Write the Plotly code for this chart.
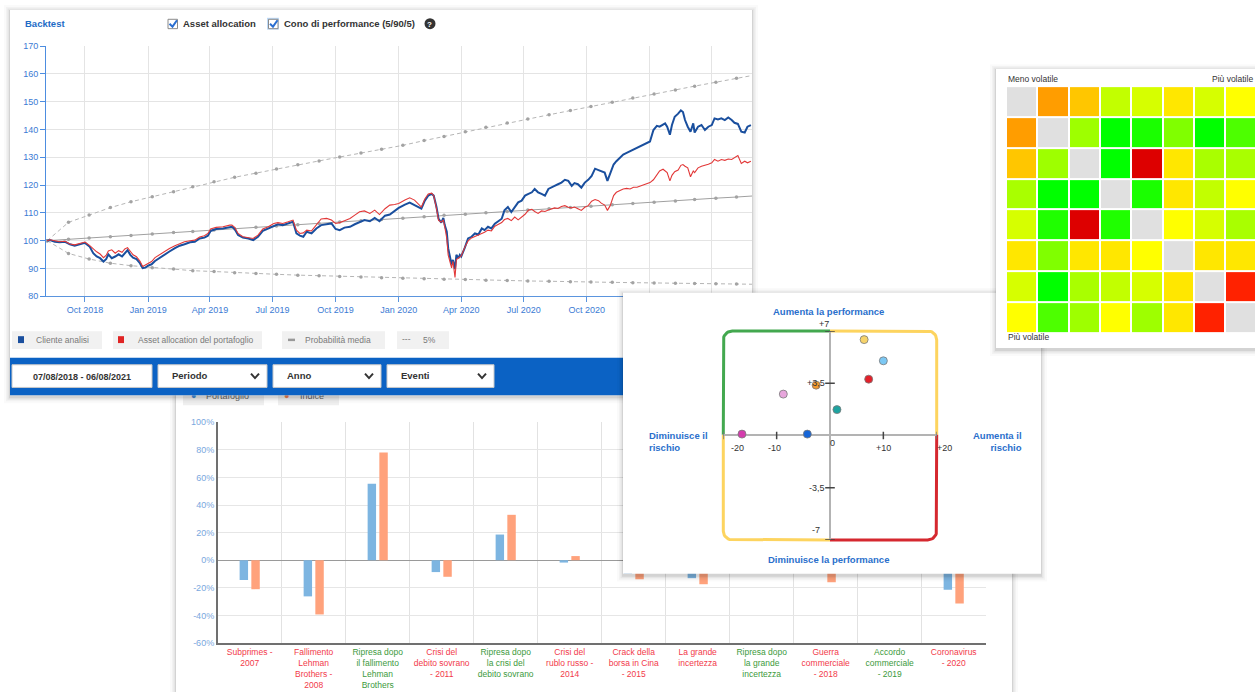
import math
import plotly.graph_objects as go

W, H = 1255, 697

# ---------------- Backtest (line chart) data ----------------
dates = [
    '2018-08-07', '2018-08-11', '2018-08-18', '2018-08-25', '2018-09-02', '2018-09-09', '2018-09-16', '2018-09-24', '2018-10-01', '2018-10-08',
    '2018-10-13', '2018-10-18', '2018-10-23', '2018-10-28', '2018-11-01', '2018-11-04', '2018-11-09', '2018-11-14', '2018-11-19', '2018-11-24',
    '2018-11-28', '2018-12-02', '2018-12-06', '2018-12-10', '2018-12-15', '2018-12-20', '2018-12-24', '2018-12-28', '2019-01-01', '2019-01-06',
    '2019-01-11', '2019-01-18', '2019-01-25', '2019-02-01', '2019-02-09', '2019-02-16', '2019-02-23', '2019-03-03', '2019-03-10', '2019-03-17',
    '2019-03-24', '2019-03-29', '2019-04-02', '2019-04-10', '2019-04-20', '2019-04-30',
    '2019-05-03', '2019-05-07', '2019-05-12', '2019-05-19', '2019-05-27', '2019-06-03', '2019-06-10', '2019-06-17', '2019-06-25', '2019-07-03',
    '2019-07-09', '2019-07-16', '2019-07-24', '2019-07-31', '2019-08-05', '2019-08-10', '2019-08-15', '2019-08-20', '2019-08-27', '2019-09-03',
    '2019-09-10', '2019-09-18', '2019-09-25', '2019-10-01', '2019-10-07', '2019-10-14', '2019-10-22', '2019-10-29', '2019-11-05', '2019-11-12',
    '2019-11-20', '2019-11-27', '2019-12-04', '2019-12-12', '2019-12-19', '2019-12-26', '2020-01-01', '2020-01-10', '2020-01-17', '2020-01-24',
    '2020-02-03', '2020-02-08', '2020-02-13', '2020-02-18', '2020-02-21', '2020-02-25', '2020-02-28', '2020-03-03', '2020-03-06', '2020-03-08',
    '2020-03-11', '2020-03-13', '2020-03-16', '2020-03-18', '2020-03-20', '2020-03-23', '2020-03-25', '2020-03-28', '2020-03-30', '2020-04-01',
    '2020-04-06', '2020-04-11', '2020-04-16', '2020-04-21', '2020-04-26', '2020-05-01', '2020-05-05', '2020-05-10', '2020-05-15', '2020-05-20',
    '2020-05-25', '2020-05-30', '2020-06-03', '2020-06-08', '2020-06-13', '2020-06-18', '2020-06-23', '2020-06-28', '2020-07-03', '2020-07-08',
    '2020-07-13', '2020-07-17', '2020-07-22', '2020-07-27', '2020-08-01', '2020-08-06', '2020-08-11', '2020-08-15', '2020-08-20', '2020-08-25',
    '2020-08-30', '2020-09-04', '2020-09-09', '2020-09-13', '2020-09-18', '2020-09-23', '2020-09-28', '2020-10-03', '2020-10-08', '2020-10-13',
    '2020-10-18', '2020-10-22', '2020-10-27',
    '2020-10-31', '2020-11-04', '2020-11-09', '2020-11-13', '2020-11-18', '2020-11-23', '2020-11-28', '2020-12-03', '2020-12-08', '2020-12-13',
    '2020-12-18', '2020-12-22', '2020-12-27', '2021-01-01', '2021-01-06', '2021-01-11', '2021-01-15', '2021-01-20', '2021-01-23', '2021-01-26',
    '2021-01-30', '2021-02-02', '2021-02-06', '2021-02-11', '2021-02-15', '2021-02-18', '2021-02-21', '2021-02-25', '2021-03-01', '2021-03-05',
    '2021-03-07', '2021-03-12', '2021-03-17', '2021-03-22', '2021-03-27', '2021-04-01', '2021-04-05', '2021-04-10', '2021-04-15', '2021-04-20',
    '2021-04-25', '2021-04-30', '2021-05-04', '2021-05-09', '2021-05-14', '2021-05-19', '2021-05-23', '2021-05-28',
]
cliente_analisi = [
    100, 100.2, 99.6, 99.4, 99.6, 98.7, 98.2, 98.7, 99.2, 97.8,
    95.5, 94.3, 93.7, 92.5, 93.4, 95.1, 93.7, 94.3, 95.1, 94.3,
    95.5, 96.6, 94.9, 93.9, 93.4, 91.9, 90.1, 90.3, 91.0, 91.5,
    92.7, 93.9, 95.1, 96.1, 97.3, 98.2, 98.7, 99.4, 99.6, 100.8,
    101.1, 101.8, 103.5, 104.2, 104.4, 105.0,
    105, 104.2, 102, 101.1, 100.8, 100.2, 101.4, 103.5, 104.4, 105.4,
    105.9, 105.6, 106.2, 106.8, 102.6, 101.8, 101.4, 103.2, 102.6, 104.4,
    105.6, 105.9, 106.2, 104.2, 103.8, 104.7, 105, 105.9, 106.8, 107.4,
    107, 108.2, 107, 109, 109.4, 110.7, 111.8, 113, 113.7, 112.8,
    111.5, 114.4, 116.2, 116.8, 116.2, 112.1, 107.9, 106.5, 108.2, 105.6,
    103.2, 97.3, 93.7, 91.4, 93.1, 89.8, 94.9, 93.7, 94.9, 94.3,
    97.3, 100.8, 101.4, 102.6, 102.2, 104.4, 103.8, 105, 104.4, 106.1,
    107, 107.9, 110.9, 112.1, 110.3, 112.1, 113.8, 114.4, 116.2, 116.8,
    117.4, 118.6, 117.4, 116.8, 116.2, 118.6, 119.1, 119.7, 120.3, 120.9,
    121.9, 121.5, 119.7, 120.7, 120.3, 119.1, 120.9, 121.9, 123.3, 125.9,
    125.4, 125.1, 124.5,
    121.5, 124.5, 127.4, 128.6, 129.8, 131, 131.6, 132.2, 132.7, 133.3,
    133.9, 134.5, 135.1, 135.7, 139.8, 141.3, 141, 141.6, 142.2, 141,
    138.1, 141.6, 144.6, 145.7, 146.9, 146.3, 143.4, 141, 139.2, 142.2,
    138.9, 141, 141.6, 139.8, 141, 141.6, 144, 143.6, 144, 143.4,
    144.3, 143.4, 142.4, 142, 139.2, 138.9, 141, 141.6,
]
asset_allocation = [
    100, 100.3, 100, 99.6, 99.8, 98.8, 98.5, 99, 99.5, 98.2,
    97, 96, 95.2, 93.9, 94.8, 96.3, 96.7, 95.5, 96.4, 95.8,
    97, 97.5, 96.2, 94.9, 94.2, 92.7, 90.7, 91.2, 91.9, 92.5,
    93.9, 95, 96.3, 97.2, 98.2, 98.9, 99.6, 100, 100.2, 101.3,
    101.8, 102.6, 104.2, 104.8, 105, 105.6,
    105.6, 104.8, 102.6, 101.4, 101.1, 100.8, 102, 104.2, 105, 106.2,
    106.5, 106.2, 106.8, 107.4, 103.8, 102.6, 102.8, 103.8, 103.5, 105.6,
    107.8, 108, 107.4, 106.2, 106.5, 107.2, 108, 109.2, 110.4, 110.7,
    109.8, 111, 109.4, 111.5, 112.8, 113, 113.4, 114.6, 115.4, 114.6,
    112.1, 115, 116.8, 117.1, 116.2, 111.5, 107.3, 106.7, 107.5, 105,
    100.8, 94.9, 92, 90.2, 92.6, 86.8, 93.2, 93.7, 94.2, 94.5,
    97.5, 99.9, 101, 101.5, 102, 102.5, 103, 103.8, 103.5, 105.2,
    105.8, 106.5, 107.6, 108, 107.2, 108.5, 107.5, 108.5, 109.5, 111,
    111.3, 110.5, 109.8, 110.7, 110.5, 111, 111.4, 111.8, 111.6, 112.3,
    112.6, 112, 111.8, 112.1, 111.5, 110.9, 112, 112.6, 114.2, 114.8,
    114.4, 113.5, 112.8,
    110.9, 112.6, 116.2, 117.4, 118, 118.6, 118.8, 118.6, 119.2, 119.2,
    119.7, 120, 120.3, 120.9, 121.9, 123.9, 125.1, 125.7, 125, 124.5,
    121.5, 123.5, 124.8, 125.4, 127.1, 127.4, 126.8, 126.2, 123, 125.1,
    124.5, 126.2, 126.8, 127.1, 127.5, 128, 129.2, 128.6, 129.2, 128.9,
    129.4, 129.2, 129.8, 130.6, 127.8, 128.6, 128, 128.6,
]
cone_dates = [
    '2018-08-07', '2018-09-07', '2018-10-07', '2018-11-07', '2018-12-07', '2019-01-07', '2019-02-07', '2019-03-07', '2019-04-07',
    '2019-05-07', '2019-06-07', '2019-07-07', '2019-08-07', '2019-09-07', '2019-10-07', '2019-11-07', '2019-12-07', '2020-01-07',
    '2020-02-07', '2020-03-07', '2020-04-07', '2020-05-07', '2020-06-07', '2020-07-07', '2020-08-07', '2020-09-07', '2020-10-07',
    '2020-11-07', '2020-12-07', '2021-01-07', '2021-02-07', '2021-03-07', '2021-04-07', '2021-05-07', '2021-06-07',
]
cone_upper = [100, 106.6, 109.2, 111.9, 114.0, 115.8, 117.6, 119.4, 121.2, 122.8, 124.3, 125.8, 127.3, 128.7, 130.1, 131.5, 132.9,
              134.3, 136.0, 137.5, 139.2, 140.8, 142.3, 143.8, 145.3, 146.8, 148.3, 149.8, 151.3, 152.8, 154.2, 155.6, 157.0, 158.4, 159.8]
cone_median = [100, 100.5, 101.0, 101.4, 101.9, 102.4, 102.9, 103.3, 103.8, 104.3, 104.8, 105.3, 105.7, 106.2, 106.7, 107.2, 107.6,
               108.1, 108.6, 109.1, 109.5, 110.0, 110.5, 111.0, 111.5, 111.9, 112.4, 112.9, 113.4, 113.8, 114.3, 114.8, 115.3, 115.7, 116.2]
cone_lower = [100, 95.4, 93.4, 91.9, 91.0, 90.3, 89.8, 89.2, 88.9, 88.5, 88.2, 87.9, 87.6, 87.4, 87.1, 86.9, 86.7,
              86.5, 86.3, 86.1, 86.0, 85.8, 85.7, 85.5, 85.4, 85.2, 85.1, 85.0, 84.9, 84.8, 84.7, 84.6, 84.5, 84.4, 84.3]

# ---------------- Events bar chart data ----------------
event_lines = [
    ['Subprimes -', '2007'],
    ['Fallimento', 'Lehman', 'Brothers -', '2008'],
    ['Ripresa dopo', 'il fallimento', 'Lehman', 'Brothers'],
    ['Crisi del', 'debito sovrano', '- 2011'],
    ['Ripresa dopo', 'la crisi del', 'debito sovrano'],
    ['Crisi del', 'rublo russo -', '2014'],
    ['Crack della', 'borsa in Cina', '- 2015'],
    ['La grande', 'incertezza'],
    ['Ripresa dopo', 'la grande', 'incertezza'],
    ['Guerra', 'commerciale', '- 2018'],
    ['Accordo', 'commerciale', '- 2019'],
    ['Coronavirus', '- 2020'],
]
event_is_crisis = [True, True, False, True, False, True, True, True, False, True, False, True]
portafoglio = [-14.3, -26.2, 55.4, -8.6, 18.6, -1.7, -10.0, -13.0, 12.0, -7.0, 15.0, -21.4]
indice = [-21.0, -39.3, 78.0, -12.0, 32.9, 3.0, -13.8, -17.4, 18.0, -16.0, 22.0, -31.4]
bar_pct_ticks = [-60, -40, -20, 0, 20, 40, 60, 80, 100]

# ---------------- Risk / performance scatter ----------------
rischio = [6.4, 10.0, 7.25, -2.6, -8.75, 1.3, -4.25, -16.5]
performance = [6.42, 5.0, 3.77, 3.37, 2.77, 1.73, 0.09, 0.09]
point_colors = ['#f6d36b', '#7cc8f4', '#e3202a', '#f29a2e', '#e7a6dc', '#1ea3a0', '#1565d8', '#d43cad']

# ---------------- Correlation heatmap ----------------
heat_scores = [
    [None, 26, 36, 62, 58, 44, 58, 50],
    [26, None, 69, 100, 95, 75, 100, 85],
    [36, 69, None, 100, 0, 44, 67, 67],
    [67, 100, 100, None, 95, 44, 62, 50],
    [58, 94, 0, 94, None, 50, 58, 67],
    [44, 75, 44, 44, 50, None, 44, 44],
    [58, 100, 67, 62, 58, 44, None, 5],
    [50, 85, 69, 50, 69, 44, 5, None],
]


def X(px):
    return px / W


def Y(py):
    return 1 - py / H


BG1, BG3, BG5, BG7 = ('x', 'y'), ('x3', 'y3'), ('x5', 'y5'), ('x7', 'y7')


def rect(x0, y0, x1, y1, fill, ax, line_color=None, lw=0):
    return go.Scatter(x=[x0, x1, x1, x0, x0], y=[y0, y0, y1, y1, y0], mode='lines', fill='toself',
                      fillcolor=fill, line=dict(width=lw, color=line_color or fill),
                      hoverinfo='skip', showlegend=False, xaxis=ax[0], yaxis=ax[1])


def polyline(xs, ys, color, width, ax, dash=None):
    return go.Scatter(x=xs, y=ys, mode='lines', line=dict(color=color, width=width, dash=dash),
                      hoverinfo='skip', showlegend=False, xaxis=ax[0], yaxis=ax[1])


def panel(x0, y0, x1, y1, ax):
    out = []
    for d, a in [(6, 0.02), (4, 0.03), (2.5, 0.05), (1, 0.08)]:
        out.append(rect(x0 - d, y0 - d + 1, x1 + d, y1 + d + 2, f'rgba(0,0,0,{a})', ax))
    out.append(rect(x0, y0, x1, y1, '#ffffff', ax))
    return out


def text_trace(x, y, txt, color, size, ax, pos='middle right'):
    return go.Scatter(x=[x], y=[y], mode='text', text=[txt], textposition=pos,
                      textfont=dict(color=color, size=size, family='Arial'),
                      hoverinfo='skip', showlegend=False, xaxis=ax[0], yaxis=ax[1])


traces = []
annotations = []


def ann(text, x, y, size=9, color='#333333', bold=False, xanchor='center', align='center'):
    annotations.append(dict(text=f'<b>{text}</b>' if bold else text, x=X(x), y=Y(y), xref='paper', yref='paper',
                            showarrow=False, font=dict(size=size, color=color, family='Arial'),
                            xanchor=xanchor, yanchor='middle', align=align))


# ===== 1) bar chart panel background (bottom-most) =====
traces += panel(176, 386, 1012, 720, BG1)
traces.append(rect(183, 389, 264, 406, '#efefef', BG1))
traces.append(rect(278, 389, 339, 406, '#efefef', BG1))
traces.append(text_trace(191, 397, '●', '#4a90d9', 9, BG1))
traces.append(text_trace(206, 397, 'Portafoglio', '#666666', 9, BG1))
traces.append(text_trace(284, 397, '●', '#f08050', 9, BG1))
traces.append(text_trace(300, 397, 'Indice', '#666666', 9, BG1))

# ===== 2) bar chart =====
event_keys = ['<br>'.join(l) for l in event_lines]
event_text = ['<br>'.join(f"<span style='color:{'#f23a4a' if c else '#3c9a3c'}'>{s}</span>" for s in l)
              for l, c in zip(event_lines, event_is_crisis)]
traces.append(go.Bar(x=event_keys, y=portafoglio, marker=dict(color='#7db5e1', line=dict(width=0)),
                     name='Portafoglio', xaxis='x2', yaxis='y2', hoverinfo='skip'))
traces.append(go.Bar(x=event_keys, y=indice, marker=dict(color='#ffa27c', line=dict(width=0)),
                     name='Indice', xaxis='x2', yaxis='y2', hoverinfo='skip'))

# ===== 3) backtest panel background & chrome =====
traces += panel(10, 5, 752, 396, BG3)
traces.append(rect(10, 358, 752, 396, '#0b62c4', BG3))
for x0, x1 in [(12, 102), (113, 262), (282, 385), (397, 449)]:
    traces.append(rect(x0, 331, x1, 349, '#f1f1f1', BG3))
traces.append(rect(18, 336, 24, 343, '#1a4f9e', BG3))
traces.append(rect(118, 336, 124, 343, '#e02424', BG3))
traces.append(rect(288, 338.5, 295, 341, '#999999', BG3))
for x0, x1 in [(12, 152), (158, 267), (273, 381), (387, 494)]:
    traces.append(rect(x0, 365, x1, 388, '#ffffff', BG3, '#c8c8c8', 1))
for cx in [255, 369, 482]:
    traces.append(polyline([cx - 4, cx, cx + 4], [374, 378.5, 374], '#333333', 2, BG3))
# checkboxes and help icon
traces.append(rect(267, 13, 279, 25, 'rgba(70,150,235,0.35)', BG3))
for bx in [168, 268.5]:
    traces.append(rect(bx, 14.5, bx + 9.5, 24, '#ffffff', BG3, '#8a8a8a', 1))
    traces.append(polyline([bx + 1.5, bx + 4.5, bx + 9], [19, 22, 15.5], '#2b6fd1', 2, BG3))
traces.append(go.Scatter(x=[430], y=[19], mode='markers', marker=dict(size=11, color='#333333'),
                         hoverinfo='skip', showlegend=False, xaxis='x3', yaxis='y3'))

# ===== 4) backtest chart =====
marker_small = dict(size=3.5, color='#a3a3a3')
traces.append(go.Scatter(x=cone_dates, y=cone_upper, mode='lines+markers',
                         line=dict(color='#b5b5b5', width=1, dash='4px,3px'),
                         marker=marker_small, xaxis='x4', yaxis='y4', hoverinfo='skip', name='5%'))
traces.append(go.Scatter(x=cone_dates, y=cone_lower, mode='lines+markers',
                         line=dict(color='#b5b5b5', width=1, dash='4px,3px'),
                         marker=marker_small, xaxis='x4', yaxis='y4', hoverinfo='skip', name='5% low'))
traces.append(go.Scatter(x=cone_dates, y=cone_median, mode='lines+markers', line=dict(color='#a0a0a0', width=1),
                         marker=marker_small, xaxis='x4', yaxis='y4', hoverinfo='skip', name='Probabilità media'))
traces.append(go.Scatter(x=dates, y=cliente_analisi, mode='lines', line=dict(color='#1a4f9e', width=2),
                         xaxis='x4', yaxis='y4', hoverinfo='skip', name='Cliente analisi'))
traces.append(go.Scatter(x=dates, y=asset_allocation, mode='lines', line=dict(color='#e23838', width=1.1),
                         xaxis='x4', yaxis='y4', hoverinfo='skip', name='Asset allocation del portafoglio'))

# ===== 5) scatter panel background & quadrant frame =====
traces += panel(623, 292, 1041, 577, BG5)
L, R, T, B = 723.3, 936.7, 330.7, 542.7
CX, CY = 830.0, 436.0
r = 9


def arc(cx, cy, a0, a1, n=10):
    pts = [(cx + r * math.cos(math.radians(a0 + (a1 - a0) * i / n)),
            cy + r * math.sin(math.radians(a0 + (a1 - a0) * i / n))) for i in range(n + 1)]
    return [p[0] for p in pts], [p[1] for p in pts]


def frame_piece(start, corner, a0, a1, end, color):
    ax_, ay_ = arc(corner[0], corner[1], a0, a1)
    xs = [start[0]] + ax_ + [end[0]]
    ys = [start[1]] + ay_ + [end[1]]
    return polyline(xs, ys, color, 3, BG5)


traces.append(frame_piece((L, CY), (L + r, T + r), 180, 270, (CX, T), '#43a84f'))
traces.append(frame_piece((CX, T), (R - r, T + r), 270, 360, (R, CY), '#fdd45f'))
traces.append(frame_piece((R, CY), (R - r, B - r), 0, 90, (CX, B), '#d5282f'))
traces.append(frame_piece((CX, B), (L + r, B - r), 90, 180, (L, CY), '#fdd45f'))

# ===== 6) scatter =====
tx, ty = [], []
for v in [7, 3.5, -3.5, -7]:
    tx += [-0.9, 0.9, None]
    ty += [v, v, None]
for v in [-10, 10]:
    tx += [v, v, None]
    ty += [-0.25, 0.25, None]
traces.append(go.Scatter(x=tx, y=ty, mode='lines', line=dict(color='#444444', width=1.5),
                         xaxis='x6', yaxis='y6', hoverinfo='skip', showlegend=False))
traces.append(go.Scatter(x=[-20, -20, None, 20, 20], y=[-0.25, 0.25, None, -0.25, 0.25], mode='lines',
                         line=dict(color='#777777', width=1.5), xaxis='x6', yaxis='y6', hoverinfo='skip', showlegend=False))
traces.append(go.Scatter(x=rischio, y=performance, mode='markers',
                         marker=dict(size=8, color=point_colors, line=dict(color='#7a7a7a', width=0.8)),
                         xaxis='x6', yaxis='y6', hoverinfo='skip', showlegend=False))

# ===== 7) heatmap panel background =====
traces += panel(996, 65, 1262, 348, BG7)

# ===== 8) heatmap =====
n = len(heat_scores)
diag_mask = [[1 if i == j else None for j in range(n)] for i in range(n)]
traces.append(go.Heatmap(z=heat_scores, x=list(range(n)), y=list(range(n)), zmin=0, zmax=100,
                         colorscale=[[0, '#dd0000'], [0.05, '#ff2200'], [0.25, '#ff9900'], [0.5, '#ffff00'],
                                     [0.75, '#80ff00'], [1, '#00ff00']],
                         xgap=2, ygap=2, showscale=False, xaxis='x8', yaxis='y8', hoverinfo='skip'))
traces.append(go.Heatmap(z=diag_mask, x=list(range(n)), y=list(range(n)),
                         colorscale=[[0, '#e0e0e0'], [1, '#e0e0e0']], xgap=2, ygap=2, showscale=False,
                         xaxis='x8', yaxis='y8', hoverinfo='skip'))

fig = go.Figure(data=traces)


def bg_axes(nn):
    sx = '' if nn == 1 else str(nn)
    return {
        f'xaxis{sx}': dict(domain=[0, 1], range=[0, W], visible=False, fixedrange=True, anchor=f'y{sx}'),
        f'yaxis{sx}': dict(domain=[0, 1], range=[H, 0], visible=False, fixedrange=True, anchor=f'x{sx}'),
    }


layout = dict(
    width=W, height=H, margin=dict(l=0, r=0, t=0, b=0), paper_bgcolor='#ffffff', plot_bgcolor='rgba(0,0,0,0)',
    showlegend=False, hovermode=False, font=dict(family='Arial', size=9, color='#333333'),
    barmode='group', bargap=0.634, bargroupgap=0.28,
)
for k in [1, 3, 5, 7]:
    layout.update(bg_axes(k))

layout['xaxis2'] = dict(domain=[X(217.7), X(985.7)], anchor='y2', type='category', range=[-0.5, 11.5],
                        tickson='boundaries', tickvals=event_keys, ticktext=event_text, tickangle=0,
                        showgrid=True, gridcolor='#e2e2e2', showline=True, linecolor='#707070', linewidth=2,
                        ticks='', tickfont=dict(size=8.5, family='Arial'), fixedrange=True)
layout['yaxis2'] = dict(domain=[Y(647.3), Y(423.3)], anchor='x2', range=[-60, 100],
                        tickvals=bar_pct_ticks, ticktext=[f'{v}%' for v in bar_pct_ticks],
                        tickfont=dict(size=9, color='#7aa8de', family='Arial'), showgrid=True, gridcolor='#e6e6e6',
                        zeroline=True, zerolinecolor='#9a9a9a', zerolinewidth=1.2, showline=True,
                        linecolor='#707070', linewidth=1.5, ticks='', fixedrange=True)
layout['xaxis4'] = dict(domain=[X(46), X(752)], anchor='y4', type='date',
                        range=['2018-08-05 05:00', '2021-05-29 14:00'], dtick='M3', tick0='2018-10-01',
                        tickformat='%b %Y', showgrid=True, gridcolor='#e4e4e4', showline=True, linecolor='#5b95de',
                        ticks='outside', ticklen=5, tickcolor='#5b95de',
                        tickfont=dict(size=9, color='#3b7bd4', family='Arial'), fixedrange=True)
layout['yaxis4'] = dict(domain=[Y(295.5), Y(41.7)], anchor='x4', range=[80, 170], dtick=10, tick0=80,
                        showgrid=True, gridcolor='#e4e4e4', showline=True, linecolor='#4d8de0', ticks='outside',
                        ticklen=5, tickcolor='#4d8de0', tickfont=dict(size=9, color='#3b7bd4', family='Arial'),
                        zeroline=False, fixedrange=True)
layout['xaxis6'] = dict(domain=[X(L), X(R)], anchor='y6', range=[-20, 20], showgrid=False, zeroline=True,
                        zerolinecolor='#b3b3b3', zerolinewidth=2, showticklabels=False, ticks='', showline=False,
                        fixedrange=True)
layout['yaxis6'] = dict(domain=[Y(B), Y(T)], anchor='x6', range=[-7, 7], showgrid=False, zeroline=True,
                        zerolinecolor='#b3b3b3', zerolinewidth=2, showticklabels=False, ticks='', showline=False,
                        fixedrange=True)
layout['xaxis8'] = dict(domain=[X(1006), 1], anchor='y8', range=[-0.5, -0.5 + (1255 - 1006) / 31.3],
                        visible=False, fixedrange=True)
layout['yaxis8'] = dict(domain=[Y(332.7), Y(82.3)], anchor='x8', range=[7.5, -0.5], visible=False, fixedrange=True)

# ---- texts: backtest panel ----
ann('Backtest', 23, 19, 9.5, '#1e6bc6', True, 'left')
ann('Asset allocation', 181, 19, 9.5, '#333333', True, 'left')
ann('Cono di performance (5/90/5)', 282, 19, 9.5, '#333333', True, 'left')
ann('?', 430, 19.5, 8, '#ffffff', True)
ann('Cliente analisi', 34, 340, 8.5, '#7a7a7a', False, 'left')
ann('Asset allocation del portafoglio', 136, 340, 8.5, '#7a7a7a', False, 'left')
ann('Probabilità media', 303, 340, 8.5, '#7a7a7a', False, 'left')
ann('---', 400, 339, 8.5, '#7a7a7a', False, 'left')
ann('5%', 421, 340, 8.5, '#7a7a7a', False, 'left')
ann('07/08/2018 - 06/08/2021', 82, 377, 9, '#333333', True)
ann('Periodo', 170, 376, 9.5, '#333333', True, 'left')
ann('Anno', 285, 376, 9.5, '#333333', True, 'left')
ann('Eventi', 399, 376, 9.5, '#333333', True, 'left')

# ---- texts: scatter panel ----
blue_t = '#2a6fcc'
ann('Aumenta la performance', 829, 311, 9.5, blue_t, True)
ann('Diminuisce la performance', 829, 563, 9.5, blue_t, True)
ann('Diminuisce il<br>rischio', 647, 443, 9.5, blue_t, True, 'left', 'left')
ann('Aumenta il<br>rischio', 1024, 443, 9.5, blue_t, True, 'right', 'right')
for txt, xv, yv, xa, ya, xs, ys in [
    ('+7', 0, 7, 'right', 'bottom', 1, 0), ('+3,5', 0, 3.5, 'right', 'middle', -3, 0),
    ('-3,5', 0, -3.5, 'right', 'middle', -3, 0), ('-7', 0, -7, 'right', 'bottom', -8, 3),
    ('-20', -20, 0, 'center', 'top', 14, -6), ('-10', -10, 0, 'center', 'top', -2, -6),
    ('0', 0, 0, 'center', 'top', 2, -1), ('+10', 10, 0, 'center', 'top', 0, -6),
    ('+20', 20, 0, 'center', 'top', 8, -6)]:
    annotations.append(dict(text=txt, x=xv, y=yv, xref='x6', yref='y6', showarrow=False, xanchor=xa, yanchor=ya,
                            xshift=xs, yshift=ys, font=dict(size=9, color='#333333', family='Arial')))

# ---- texts: heatmap panel ----
ann('Meno volatile', 1006, 75, 8.5, '#333333', False, 'left')
ann('Più volatile', 1255, 75, 8.5, '#333333', False, 'right')
ann('Più volatile', 1006, 337, 8.5, '#333333', False, 'left')

layout['annotations'] = annotations
fig.update_layout(**layout)

fig.write_html('out.html', config={'displayModeBar': False},
               post_script="document.body.style.margin='0px';document.body.style.overflow='hidden';")
